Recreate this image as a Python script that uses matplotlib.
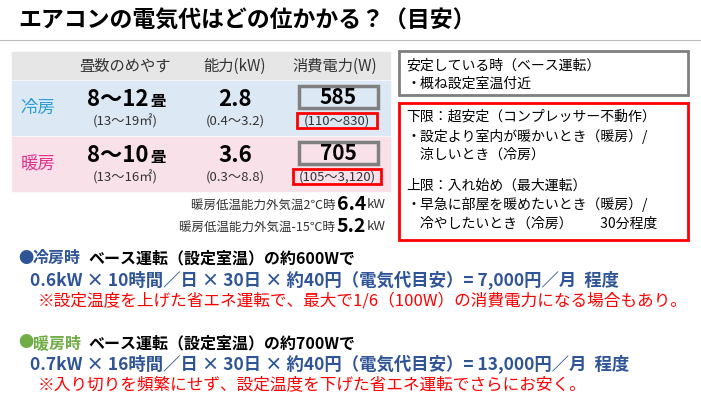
import matplotlib
matplotlib.use("Agg")
import matplotlib.pyplot as plt
from matplotlib.patches import Rectangle

plt.rcParams["font.family"] = "Noto Sans CJK JP"

title = "エアコンの電気代はどの位かかる？（目安）"
headers = ["畳数のめやす", "能力(kW)", "消費電力(W)"]
modes = ["冷房", "暖房"]
mode_colors = ["#2a9fd6", "#e0308a"]
row_bg = ["#dde8f5", "#f9e1ea"]
tatami = ["8〜12", "8〜10"]
area = ["(13〜19㎡)", "(13〜16㎡)"]
power = ["2.8", "3.6"]
power_rng = ["(0.4〜3.2)", "(0.3〜8.8)"]
watts = ["585", "705"]
watts_rng = ["(110〜830)", "(105〜3,120)"]
notes = [("暖房低温能力外気温2℃時 ", "6.4"), ("暖房低温能力外気温-15℃時 ", "5.2")]

fig = plt.figure(figsize=(7.01, 4.07), dpi=100)
ax = fig.add_axes([0, 0, 1, 1])
ax.set_xlim(0, 701); ax.set_ylim(407, 0); ax.axis("off")

ax.text(18, 21, title, fontsize=16.5, fontweight="bold", va="center")
ax.plot([0, 701], [40, 40], color="#bbbbbb", lw=0.8)

ax.add_patch(Rectangle((12, 52), 378, 27, color="#e6e6e6"))
for x, h in zip([125, 235, 335], headers):
    ax.text(x, 66, h, fontsize=11, ha="center", va="center", color="#333")
for i in range(2):
    y0 = 81 + i * 56
    ax.add_patch(Rectangle((12, y0), 378, 54, color=row_bg[i]))
    ax.text(38, y0 + 27, modes[i], fontsize=12.5, color=mode_colors[i], ha="center", va="center")
    ax.text(118, y0 + 18, tatami[i], fontsize=16, fontweight="bold", ha="center", va="center")
    ax.text(158, y0 + 20, "畳", fontsize=11, fontweight="bold", ha="center", va="center")
    ax.text(125, y0 + 40, area[i], fontsize=9.5, ha="center", va="center", color="#333")
    ax.text(235, y0 + 18, power[i], fontsize=16, fontweight="bold", ha="center", va="center")
    ax.text(235, y0 + 40, power_rng[i], fontsize=9.5, ha="center", va="center", color="#333")
    ax.add_patch(Rectangle((299, y0 + 5), 79, 22, fill=False, ec="#808080", lw=2.5))
    ax.text(338, y0 + 17, watts[i], fontsize=15, fontweight="bold", ha="center", va="center")
    w = 80 if i == 0 else 88
    ax.add_patch(Rectangle((337 - w / 2, y0 + 32), w, 15, fill=False, ec="#ff0000", lw=2))
    ax.text(337, y0 + 40, watts_rng[i], fontsize=9.5, ha="center", va="center", color="#333")
for j, (lbl, val) in enumerate(notes):
    y = 205 + j * 22
    ax.text(367, y, "kW", fontsize=9.5, ha="left", va="center", color="#333")
    ax.text(366, y, val, fontsize=14, fontweight="bold", ha="right", va="center")
    ax.text(338, y, lbl, fontsize=9, ha="right", va="center", color="#333")

ax.add_patch(Rectangle((399, 51), 289, 44, fill=False, ec="#7f7f7f", lw=2))
ax.text(406, 66, "安定している時（ベース運転）", fontsize=10, va="center")
ax.text(406, 84, "・概ね設定室温付近", fontsize=10, va="center")
ax.add_patch(Rectangle((399, 103), 289, 137, fill=False, ec="#ff0000", lw=2))
lines = [(117, "下限：超安定（コンプレッサー不動作）"),
         (136, "・設定より室内が暖かいとき（暖房）/"),
         (155, "　涼しいとき（冷房）"),
         (186, "上限：入れ始め（最大運転）"),
         (205, "・早急に部屋を暖めたいとき（暖房）/"),
         (224, "　冷やしたいとき（冷房）　　30分程度")]
for y, t in lines:
    ax.text(406, y, t, fontsize=10, va="center")

blue = "#2f5597"
ax.text(18, 258, "●", fontsize=11, color=blue, va="center")
ax.text(33, 258, "冷房時", fontsize=11.5, color=blue, fontweight="bold", va="center")
ax.text(88, 258, "ベース運転（設定室温）の約600Wで", fontsize=11.5, fontweight="bold", va="center")
ax.text(30, 280, "0.6kW × 10時間／日 × 30日 × 約40円（電気代目安）= 7,000円／月  程度", fontsize=12.5, color=blue, fontweight="bold", va="center")
ax.text(38, 301, "※設定温度を上げた省エネ運転で、最大で1/6（100W）の消費電力になる場合もあり。", fontsize=12, color="#ff0000", va="center")
green = "#70ad47"
ax.text(18, 343, "●", fontsize=11, color=green, va="center")
ax.text(33, 343, "暖房時", fontsize=11.5, color=green, fontweight="bold", va="center")
ax.text(88, 343, "ベース運転（設定室温）の約700Wで", fontsize=11.5, fontweight="bold", va="center")
ax.text(30, 364, "0.7kW × 16時間／日 × 30日 × 約40円（電気代目安）= 13,000円／月  程度", fontsize=12.5, color=blue, fontweight="bold", va="center")
ax.text(38, 385, "※入り切りを頻繁にせず、設定温度を下げた省エネ運転でさらにお安く。", fontsize=12, color="#ff0000", va="center")

fig.savefig("out.png", dpi=100)
